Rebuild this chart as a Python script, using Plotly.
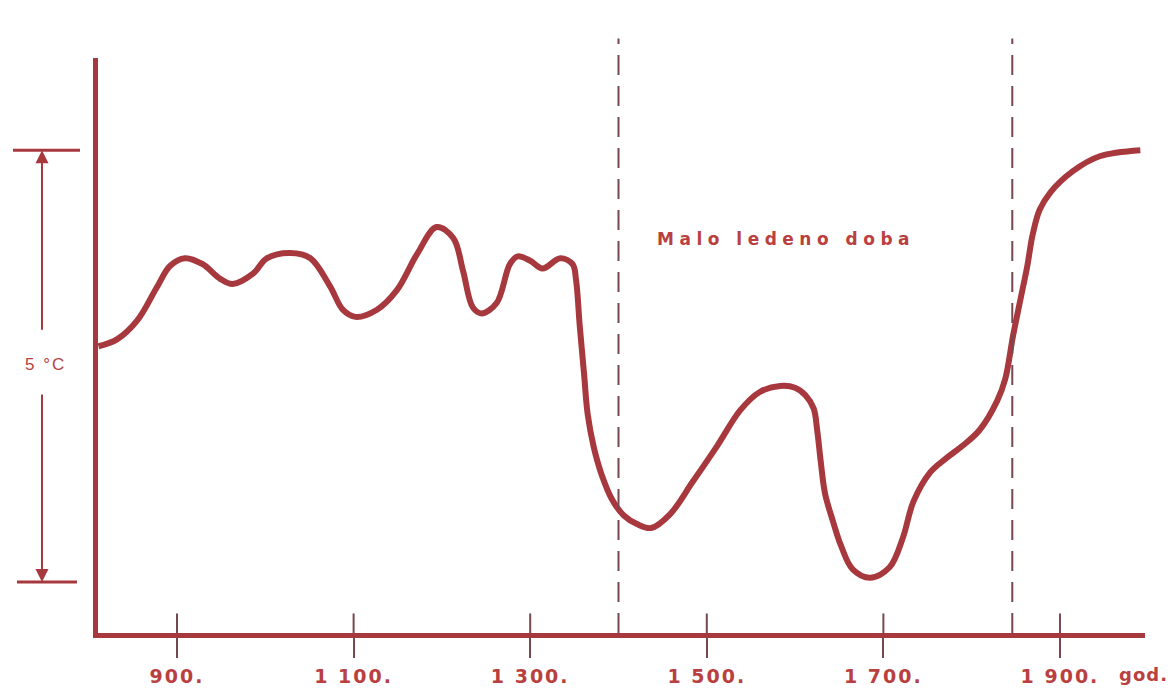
import plotly.graph_objects as go

# ---- data ----
YEARS = [811, 832, 855, 877, 892, 909, 929, 949, 963, 986,
         1002, 1028, 1051, 1073, 1088, 1102, 1126, 1149, 1172, 1194,
         1213, 1224, 1235, 1245, 1262, 1277, 1286, 1300, 1314, 1334,
         1348, 1352, 1356, 1361, 1365, 1372, 1381, 1393, 1406, 1421,
         1437, 1458, 1484, 1512, 1538, 1560, 1583, 1600, 1612, 1621,
         1625, 1629, 1634, 1643, 1652, 1665, 1685, 1707, 1722, 1734,
         1753, 1772, 1790, 1809, 1829, 1838, 1847, 1855, 1863, 1869,
         1877, 1889, 1915, 1945, 1991]
TEMPS = [2.73, 2.81, 3.03, 3.41, 3.66, 3.75, 3.68, 3.51, 3.45, 3.57,
         3.75, 3.81, 3.75, 3.43, 3.15, 3.07, 3.15, 3.38, 3.80, 4.11,
         3.98, 3.60, 3.18, 3.11, 3.23, 3.68, 3.77, 3.72, 3.63, 3.75,
         3.68, 3.49, 2.98, 2.41, 1.95, 1.56, 1.24, 0.95, 0.77, 0.67,
         0.625, 0.78, 1.16, 1.58, 1.99, 2.20, 2.27, 2.25, 2.16, 2.01,
         1.76, 1.40, 1.02, 0.70, 0.42, 0.15, 0.05, 0.17, 0.51, 0.93,
         1.27, 1.44, 1.58, 1.76, 2.10, 2.35, 2.86, 3.26, 3.66, 4.02,
         4.31, 4.51, 4.76, 4.93, 5.00]
TICK_YEARS = [900, 1100, 1300, 1500, 1700, 1900]
TICK_LABELS = ["900.", "1 100.", "1 300.", "1 500.", "1 700.", "1 900."]
PERIOD_BOUNDS = [1400, 1846]          # dashed lines: Little Ice Age
PERIOD_LABEL = "Malo ledeno doba"
SCALE_SPAN = [0, 5]                   # °C scale bar
SCALE_LABEL = "5 °C"
UNIT_LABEL = "god."

LINE = "#a7393e"
TEXT = "#b93f40"
GREY = "#74494f"


def spaced(s, px):
    return '<span style="letter-spacing:%gpx">%s</span>' % (px, s)


fig = go.Figure()
fig.add_trace(go.Scatter(
    x=YEARS, y=TEMPS, mode="lines",
    line=dict(color=LINE, width=6, shape="spline", smoothing=1.0),
    cliponaxis=False, hoverinfo="skip", showlegend=False))

shapes = []
# inner half of the x ticks (outer half drawn by the axis)
for t in TICK_YEARS:
    shapes.append(dict(type="line", xref="x", yref="paper", x0=t, x1=t,
                       y0=0, y1=0.034, line=dict(color=GREY, width=2)))
# dashed period boundaries
for b in PERIOD_BOUNDS:
    shapes.append(dict(type="line", xref="x", yref="paper", x0=b, x1=b,
                       y0=0, y1=1.034, line=dict(color=GREY, width=2, dash="20px,11px")))
# scale bar caps
shapes.append(dict(type="line", xref="paper", yref="y", x0=-0.0812, x1=-0.0172,
                   y0=SCALE_SPAN[1], y1=SCALE_SPAN[1], line=dict(color=LINE, width=3)))
shapes.append(dict(type="line", xref="paper", yref="y", x0=-0.0774, x1=-0.0201,
                   y0=SCALE_SPAN[0], y1=SCALE_SPAN[0], line=dict(color=LINE, width=3)))

annotations = [
    dict(x=-0.0535, xref="paper", y=SCALE_SPAN[1], yref="y", text="", showarrow=True,
         ax=0, ay=181, arrowhead=2, arrowsize=1.3, arrowwidth=2, arrowcolor=LINE),
    dict(x=-0.0535, xref="paper", y=SCALE_SPAN[0], yref="y", text="", showarrow=True,
         ax=0, ay=-189, arrowhead=2, arrowsize=1.3, arrowwidth=2, arrowcolor=LINE),
    dict(x=-0.0506, xref="paper", xanchor="center", y=2.52, yref="y",
         text=spaced(SCALE_LABEL, 2), showarrow=False,
         font=dict(family="Liberation Sans", size=17, color=TEXT)),
    dict(x=1590, xref="x", xanchor="center", y=3.97, yref="y",
         text=spaced(PERIOD_LABEL, 5.5), showarrow=False,
         font=dict(family="DejaVu Sans", size=17, color=TEXT, weight="bold")),
    dict(x=1.0239, xref="paper", xanchor="right", y=-0.0717, yref="paper", yanchor="middle",
         text=spaced(UNIT_LABEL, 1), showarrow=False,
         font=dict(family="DejaVu Sans", size=18, color=TEXT, weight="bold")),
]

fig.update_layout(
    width=1175, height=699,
    margin=dict(l=98, r=30, t=58, b=55),
    paper_bgcolor="white", plot_bgcolor="white",
    shapes=shapes, annotations=annotations,
    xaxis=dict(range=[810.5, 1996.3], showgrid=False, zeroline=False,
               showline=True, linecolor=LINE, linewidth=5,
               tickmode="array", tickvals=TICK_YEARS,
               ticktext=[spaced(t, 2) for t in TICK_LABELS],
               ticks="outside", ticklen=20, tickwidth=2, tickcolor=GREY,
               ticklabelstandoff=2,
               tickfont=dict(family="DejaVu Sans", size=19, color=TEXT, weight="bold")),
    yaxis=dict(range=[-0.591, 6.068], showgrid=False, zeroline=False,
               showline=True, linecolor=LINE, linewidth=5,
               showticklabels=False, ticks=""),
)

fig.write_html("out.html",
               config={"displayModeBar": False},
               post_script="document.body.style.margin='0';document.body.style.overflow='hidden';")
